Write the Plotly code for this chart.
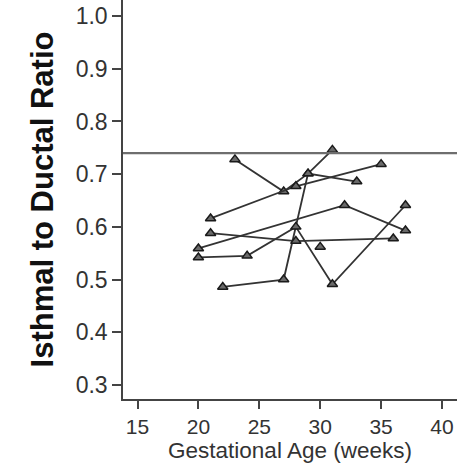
import plotly.graph_objects as go

# Patients: gestational age (weeks) and isthmal-to-ductal ratio
p1_weeks = [23, 27, 29, 31]
p1_ratio = [0.728, 0.667, 0.701, 0.746]
p2_weeks = [21, 28, 35]
p2_ratio = [0.616, 0.677, 0.719]
p3_weeks = [22, 27, 29, 33]
p3_ratio = [0.486, 0.500, 0.701, 0.686]
p4_weeks = [20, 24, 28, 31, 37]
p4_ratio = [0.542, 0.545, 0.600, 0.491, 0.641]
p5_weeks = [20, 32, 37]
p5_ratio = [0.559, 0.641, 0.593]
p6_weeks = [21, 28, 36]
p6_ratio = [0.588, 0.573, 0.578]
p7_weeks = [30]
p7_ratio = [0.562]

threshold = 0.74

x_ticks = [15, 20, 25, 30, 35, 40]
y_ticks = [0.3, 0.4, 0.5, 0.6, 0.7, 0.8, 0.9, 1.0]

series = [
    (p1_weeks, p1_ratio), (p2_weeks, p2_ratio), (p3_weeks, p3_ratio),
    (p4_weeks, p4_ratio), (p5_weeks, p5_ratio), (p6_weeks, p6_ratio),
    (p7_weeks, p7_ratio),
]

fig = go.Figure()
for wk, rt in series:
    fig.add_trace(go.Scatter(
        x=wk, y=rt, mode="lines+markers",
        line=dict(color="#333333", width=1.8),
        marker=dict(symbol="triangle-up", size=9, color="#6a6a6a",
                    line=dict(color="#1a1a1a", width=1.5)),
        showlegend=False, cliponaxis=False,
    ))

fig.add_hline(y=threshold, line=dict(color="#6e6e6e", width=2.2))

font_family = "Liberation Sans, Arial, sans-serif"
fig.update_layout(
    width=461, height=464,
    margin=dict(l=123, r=4, t=0, b=65),
    paper_bgcolor="white", plot_bgcolor="white",
    font=dict(family=font_family, color="#333333"),
    xaxis=dict(
        range=[13.81, 41.23], tickvals=x_ticks,
        showgrid=False, zeroline=False,
        showline=True, linecolor="#444444", linewidth=1.5,
        ticks="outside", ticklen=8, tickwidth=1.5, tickcolor="#444444",
        tickfont=dict(size=21, color="#333333"),
        title=dict(text="Gestational Age (weeks)", font=dict(size=22.5, color="#333333"), standoff=1),
    ),
    yaxis=dict(
        range=[0.2734, 1.0304], tickvals=y_ticks, tickformat=".1f",
        showgrid=False, zeroline=False,
        showline=True, linecolor="#444444", linewidth=1.5,
        ticks="outside", ticklen=9, tickwidth=1.5, tickcolor="#444444",
        tickfont=dict(size=23, color="#333333"),
        title=dict(text="<b>Isthmal to Ductal Ratio</b>",
                   font=dict(size=31, color="#111111"), standoff=13),
    ),
)

fig.write_html("out.html")
